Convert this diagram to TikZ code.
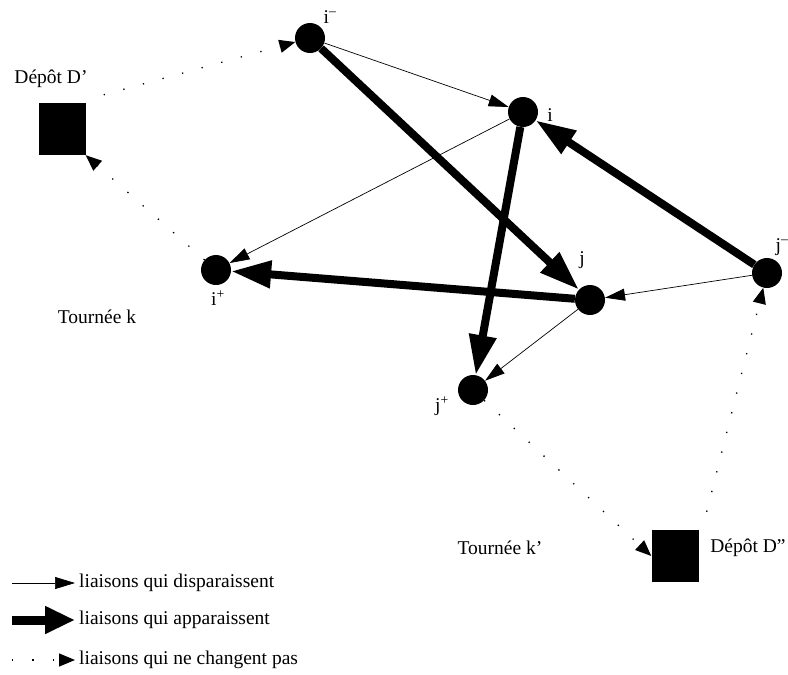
\documentclass[tikz,border=0pt]{standalone}
\usepackage{fontspec}
\setmainfont{Liberation Serif}
\usetikzlibrary{arrows.meta}
\begin{document}
\begin{tikzpicture}[x=1pt,y=-1pt,
  client/.style={circle,fill=black,minimum size=30pt,inner sep=0pt},
  depot/.style={rectangle,fill=black,minimum width=47pt,minimum height=52pt,inner sep=0pt},
  lbl/.style={font=\fontsize{19.5}{22}\selectfont,inner sep=1pt},
  thin/.style={line width=0.7pt,-{Triangle[length=20pt,width=12pt]}},
  thick/.style={line width=8pt,-{Triangle[length=40pt,width=26pt]}},
  thicklegend/.style={line width=9pt,-{Triangle[length=30pt,width=26pt]}},
  dotline/.style={line width=1.3pt,dash pattern=on 1.3pt off 19pt,-{Triangle[length=16pt,width=13pt]}}]
\useasboundingbox (0,0) rectangle (788,675);
% clients
\node[client] (im) at (310,38) {};
\node[client] (i) at (523,112) {};
\node[client] (j) at (590,300) {};
\node[client] (jm) at (767,273) {};
\node[client] (ip) at (216,270) {};
\node[client] (jp) at (473,390) {};
% depots
\node[depot] (D1) at (62,129) {};
\node[depot] (D2) at (675,556) {};
% labels
\node[lbl] (lim) at (330,17) {i\textsuperscript{–}};
\node[lbl] (li) at (550,115) {i};
\node[lbl] (lj) at (582,260) {j};
\node[lbl] (ljm) at (782,247) {j\textsuperscript{–}};
\node[lbl] (lip) at (218,298) {i\textsuperscript{+}};
\node[lbl] (ljp) at (442,406) {j\textsuperscript{+}};
\node[lbl] (lD1) at (51,79) {Dépôt D'};
\node[lbl] (lD2) at (748,548) {Dépôt D''};
\node[lbl] (tk) at (97,317) {Tournée k};
\node[lbl] (tk2) at (500,548) {Tournée k'};
% thin links (disappear)
\draw[thin] (im) -- (i);
\draw[thin] (i) -- (ip);
\draw[thin] (jm) -- (j);
\draw[thin] (j) -- (jp);
% thick links (appear)
\draw[thick] (im) -- (j);
\draw[thick] (i) -- (jp);
\draw[thick] (jm) -- (i);
\draw[thick] (j) -- (ip);
% dotted links (unchanged)
\draw[dotline] (D1.north east) ++(18,-8) coordinate (d1s) (d1s) -- (im);
\draw[dotline] (ip) -- (D1.south east);
\draw[dotline] (jp) -- (D2.west);
\draw[dotline] (D2.north east) ++(8,-18) coordinate (d2s) (d2s) -- (jm);
% legend
\coordinate (a1) at (12,583);
\coordinate (b1) at (75,583);
\coordinate (a2) at (12,620);
\coordinate (b2) at (75,620);
\coordinate (a3) at (12,660);
\coordinate (b3) at (75,660);
\draw[thin] (a1) -- (b1);
\draw[thicklegend] (a2) -- (b2);
\draw[dotline] (a3) -- (b3);
\node[lbl,anchor=west] (t1) at (78,583) {liaisons qui disparaissent};
\node[lbl,anchor=west] (t2) at (78,620) {liaisons qui apparaissent};
\node[lbl,anchor=west] (t3) at (78,660) {liaisons qui ne changent pas};
\end{tikzpicture}
\end{document}
